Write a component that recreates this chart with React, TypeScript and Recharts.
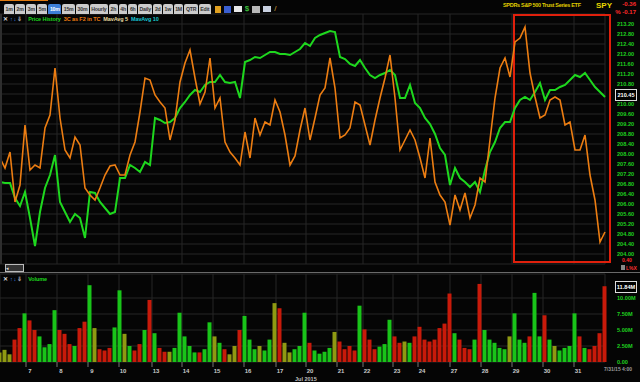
import React from 'react';
import { LineChart, Line, BarChart, Bar, XAxis, YAxis, CartesianGrid, Cell, ReferenceArea } from 'recharts';

// trading days shown on the time axis and where each day begins (in bar units)
const dayLabels = ['7', '8', '9', '10', '13', '14', '15', '16', '17', '20', '21', '22', '23', '24', '27', '28', '29', '30', '31'];
const dayTicks = [5.2, 11.4, 17.6, 23.8, 30.4, 36.4, 42.6, 48.8, 55.2, 61.2, 67.4, 72.6, 78.6, 83.6, 90, 96.2, 102.4, 108.6, 114.8];

const priceTicks = [
  204.0, 204.4, 204.8, 205.2, 205.6, 206.0, 206.4, 206.8, 207.2, 207.6, 208.0, 208.4,
  208.8, 209.2, 209.6, 210.0, 210.4, 210.8, 211.2, 211.6, 212.0, 212.4, 212.8, 213.2,
];
const volumeTicks = [0, 2.5, 5, 7.5, 10];

// SPY price history
const priceHistory = [
  206.88, 206.84, 206.84, 206.24, 205.92, 206.48, 205.44, 204.32, 205.68, 206.64, 207.16, 207.96,
  206.08, 205.68, 205.28, 205.6, 205.44, 204.64, 206.48, 206.44, 206.08, 205.84, 205.6, 205.68,
  207.04, 207.04, 207.56, 207.44, 207.28, 207.68, 207.56, 209.44, 209.36, 209.24, 209.28, 209.44,
  209.84, 210.08, 210.36, 210.56, 210.48, 210.76, 210.88, 210.88, 211.16, 210.88, 210.84, 210.88,
  210.24, 211.68, 211.76, 211.88, 211.84, 211.96, 212.08, 212.08, 212.0, 212.0, 211.96, 212.08,
  212.2, 212.44, 212.32, 212.64, 212.76, 212.84, 212.92, 212.88, 211.88, 211.8, 211.6, 211.52,
  211.76, 211.44, 211.16, 211.04, 211.16, 211.24, 211.36, 211.16, 210.24, 210.24, 210.76, 210.04,
  209.84, 209.44, 209.2, 208.8, 208.24, 207.96, 206.76, 207.44, 207.04, 206.88, 206.68, 206.88,
  206.48, 207.36, 208.08, 208.48, 209.04, 209.28, 209.28, 209.84, 210.16, 210.28, 210.16, 210.48,
  210.84, 210.16, 210.56, 210.56, 210.68, 210.76, 210.96, 211.16, 211.08, 211.24, 210.96, 210.68,
  210.48, 210.28,
];

// 3C as F2 in TC, drawn on the price scale
const threeC = [
  207.84, 207.44, 208.08, 206.08, 206.76, 209.16, 207.36, 207.56, 207.44, 209.04, 209.56, 211.44,
  209.44, 208.16, 207.84, 208.68, 208.36, 206.64, 206.36, 206.16, 206.64, 207.16, 207.52, 207.56,
  207.16, 207.16, 207.96, 208.48, 209.68, 211.04, 210.96, 210.36, 210.08, 209.84, 208.56, 209.36,
  210.88, 211.64, 212.16, 211.04, 210.0, 210.48, 211.84, 209.84, 210.24, 208.48, 208.08, 207.84,
  207.56, 208.88, 207.84, 209.44, 208.76, 209.28, 209.16, 210.16, 209.68, 208.76, 207.56, 207.92,
  208.96, 209.84, 208.56, 209.44, 210.36, 210.64, 211.84, 210.64, 208.64, 208.76, 209.04, 210.08,
  209.96, 209.16, 208.36, 209.36, 210.24, 211.04, 211.96, 210.24, 208.16, 208.56, 208.96, 208.56,
  207.84, 207.04, 208.64, 206.88, 206.36, 206.08, 205.16, 206.36, 205.76, 206.44, 205.44, 205.96,
  207.04, 206.88, 208.56, 210.24, 211.44, 211.84, 211.08, 212.48, 212.64, 213.08, 211.24, 210.28,
  209.44, 209.56, 210.16, 210.28, 210.16, 209.16, 209.28, 208.16, 208.16, 208.76, 207.16, 206.16,
  204.48, 204.88,
];

// volume in millions
const volume = [
  1.5, 1.9, 1.2, 3.5, 5.3, 7.6, 6.5, 5.0, 4.0, 2.3, 2.8, 8.1,
  5.0, 4.4, 2.8, 2.5, 5.3, 6.3, 12.0, 5.3, 2.0, 1.8, 2.2, 5.4,
  11.2, 4.4, 2.5, 1.8, 2.8, 5.0, 9.7, 4.5, 2.2, 1.6, 1.6, 2.2,
  7.7, 4.0, 2.5, 1.5, 1.5, 2.0, 6.2, 4.0, 3.0, 2.0, 1.2, 2.5,
  5.0, 7.2, 3.5, 2.0, 2.5, 1.8, 3.5, 9.2, 8.4, 3.0, 1.5, 2.0,
  2.5, 7.7, 3.0, 1.8, 1.3, 1.6, 2.2, 4.7, 3.2, 2.0, 2.5, 1.8,
  8.8, 5.1, 3.5, 2.0, 2.4, 2.8, 6.6, 4.0, 3.0, 3.2, 3.0, 4.0,
  5.5, 3.5, 3.2, 3.5, 5.3, 6.0, 10.7, 4.5, 3.5, 2.2, 2.0, 3.5,
  12.2, 5.0, 3.5, 3.0, 2.2, 2.0, 4.0, 7.6, 3.5, 3.0, 4.0, 10.8,
  4.0, 7.3, 3.5, 2.5, 1.8, 2.2, 2.5, 7.6, 4.0, 2.2, 2.0, 2.5,
  4.5, 11.84,
];

const timeframes = ['1m', '2m', '3m', '5m', '10m', '15m', '30m', 'Hourly', '2h', '4h', '6h', 'Daily', '2d', '1w', '1M', 'QTR', 'Edit'];

const priceData = priceHistory.map((p, i) => ({ i, price: p, tc: threeC[i] }));
const volumeData = volume.map((v, i) => ({ i, v }));

const barColor = (i: number) => {
  const d = i === 0 ? 0 : priceHistory[i] - priceHistory[i - 1];
  if (d > 0.05) return '#19c419';
  if (d < -0.05) return '#c81a0a';
  return '#8f9a12';
};

const font = '"Liberation Sans", Arial, sans-serif';

const PriceTick = (props: any) => {
  const { x, y, payload } = props;
  return (
    <text x={x + 12} y={y + 2} fill="#1fcf1f" fontSize={5.6} fontWeight="bold" fontFamily={font}>
      {payload.value.toFixed(2)}
    </text>
  );
};

const VolumeTick = (props: any) => {
  const { x, y, payload } = props;
  const label = payload.value === 0 ? '0.00' : payload.value.toFixed(2) + 'M';
  return (
    <text x={x + 12} y={y + 2} fill="#1fcf1f" fontSize={5.6} fontWeight="bold" fontFamily={font}>
      {label}
    </text>
  );
};

const DayTick = (props: any) => {
  const { x, y, payload } = props;
  const label = dayLabels[dayTicks.indexOf(payload.value)];
  return (
    <text x={x + 4} y={y + 4} fill="#c8c8c8" fontSize={6} fontWeight="bold" textAnchor="middle" fontFamily={font}>
      {label}
    </text>
  );
};

const Legend = ({ top, items }: { top: number; items: { text: string; color: string }[] }) => (
  <div style={{ position: 'absolute', left: 3, top, display: 'flex', gap: 3, fontSize: 5.5, fontWeight: 'bold', fontFamily: font, lineHeight: '8px', letterSpacing: -0.1 }}>
    <span style={{ color: '#ddd' }}>✕</span>
    <span style={{ color: '#4a9cff', marginLeft: -1 }}>↑</span>
    <span style={{ color: '#4a9cff', marginLeft: -2 }}>↓</span>
    <span style={{ color: '#aaa', marginLeft: -2, marginRight: 3 }}>⇓</span>
    {items.map((it) => (
      <span key={it.text} style={{ color: it.color }}>{it.text}</span>
    ))}
  </div>
);

export default function App() {
  return (
    <div style={{ position: 'absolute', left: 0, top: 0, width: 640, height: 382, background: '#050505', overflow: 'hidden', fontFamily: font }}>
      {/* price panel */}
      <div style={{ position: 'absolute', left: 0, top: 0 }}>
        <LineChart width={640} height={270} data={priceData} margin={{ top: 14, right: 0, bottom: 6, left: 0 }}>
          <CartesianGrid stroke="#262626" />
          <XAxis dataKey="i" type="number" domain={[0, 121]} ticks={dayTicks} hide />
          <YAxis
            orientation="right"
            width={35}
            domain={[203.6, 213.6]}
            ticks={priceTicks}
            tick={<PriceTick />}
            tickLine={false}
            axisLine={false}
            tickSize={0}
            tickMargin={0}
            interval={0}
          />
          <Line dataKey="price" stroke="#1ed81e" strokeWidth={2} dot={false} isAnimationActive={false} />
          <Line dataKey="tc" stroke="#ec7d12" strokeWidth={1.6} dot={false} isAnimationActive={false} />
          <ReferenceArea x1={102.8} x2={122} y1={203.68} y2={213.56} ifOverflow="visible" fill="none" stroke="#e0200c" strokeWidth={2} />
        </LineChart>
      </div>

      {/* volume panel */}
      <div style={{ position: 'absolute', left: 0, top: 260 }}>
        <BarChart width={640} height={122} data={volumeData} margin={{ top: 14, right: 0, bottom: 0, left: 0 }}>
          <CartesianGrid stroke="#262626" />
          <XAxis
            dataKey="i"
            type="number"
            domain={[0, 121]}
            ticks={dayTicks}
            tick={<DayTick />}
            height={20}
            axisLine={false}
            tickLine={{ stroke: '#777' }}
            tickSize={5}
            interval={0}
          />
          <YAxis
            orientation="right"
            width={35}
            domain={[0, 13.75]}
            ticks={volumeTicks}
            tick={<VolumeTick />}
            tickLine={false}
            axisLine={false}
            tickSize={0}
            tickMargin={0}
            interval={0}
          />
          <Bar dataKey="v" barSize={4} isAnimationActive={false}>
            {volumeData.map((d) => (
              <Cell key={d.i} fill={barColor(d.i)} />
            ))}
          </Bar>
        </BarChart>
      </div>

      {/* toolbar */}
      <div style={{ position: 'absolute', left: 0, top: 0, width: 48, height: 1, background: '#e07a10' }} />
      <div style={{ position: 'absolute', left: 4, top: 4, display: 'flex', gap: 1 }}>
        {timeframes.map((t) => (
          <span
            key={t}
            style={{
              height: 10,
              lineHeight: '10px',
              padding: '0 1.5px',
              fontSize: 5.2,
              fontWeight: 'bold',
              letterSpacing: -0.2,
              background: t === '10m' ? '#3d7fd6' : '#cbcbcb',
              color: t === '10m' ? '#fff' : '#333',
              borderRadius: '2px 2px 0 0',
            }}
          >
            {t}
          </span>
        ))}
        <span style={{ display: 'flex', gap: 3, marginLeft: 3, alignItems: 'center' }}>
          <span style={{ width: 6, height: 7, background: '#e0a020' }} />
          <span style={{ width: 7, height: 7, background: '#3b5fd0' }} />
          <span style={{ width: 8, height: 6, background: '#e8e8e8' }} />
          <span style={{ color: '#3cc03c', fontSize: 8, fontWeight: 'bold', lineHeight: '8px' }}>$</span>
          <span style={{ width: 8, height: 7, background: '#b8b8b8' }} />
          <span style={{ width: 8, height: 6, background: '#c8d0e0' }} />
          <span style={{ color: '#d0a040', fontSize: 8, lineHeight: '8px' }}>/</span>
        </span>
      </div>

      <Legend
        top={15}
        items={[
          { text: 'Price History', color: '#1ed81e' },
          { text: '3C as F2 in TC', color: '#ec7d12' },
          { text: 'MavAvg 5', color: '#e6dca0' },
          { text: 'MavAvg 10', color: '#19c8d2' },
        ]}
      />
      <Legend top={275} items={[{ text: 'Volume', color: '#1ed81e' }]} />

      {/* title block */}
      <div style={{ position: 'absolute', left: 503, top: 2, color: '#e0d000', fontSize: 5.5, fontWeight: 'bold', letterSpacing: -0.3 }}>
        SPDRs S&amp;P 500 Trust Series ETF
      </div>
      <div style={{ position: 'absolute', left: 596, top: 1, color: '#e8d800', fontSize: 8, fontWeight: 'bold' }}>SPY</div>
      <div style={{ position: 'absolute', right: 4, top: 0, color: '#ff2a2a', fontSize: 6, fontWeight: 'bold', textAlign: 'right', lineHeight: '8px' }}>
        -0.36
        <br />% -0.17
      </div>

      {/* last value boxes */}
      <div style={{ position: 'absolute', left: 615, top: 89, width: 20, height: 10, border: '1px solid #ddd', color: '#fff', fontSize: 5.6, fontWeight: 'bold', lineHeight: '10px', textAlign: 'center', background: '#000' }}>
        210.45
      </div>
      <div style={{ position: 'absolute', left: 615, top: 281, width: 20, height: 10, border: '1px solid #ddd', color: '#fff', fontSize: 5.6, fontWeight: 'bold', lineHeight: '10px', textAlign: 'center', background: '#000' }}>
        11.84M
      </div>
      <div style={{ position: 'absolute', left: 622, top: 257, color: '#ff2a2a', fontSize: 5, fontWeight: 'bold' }}>0.40</div>
      <div style={{ position: 'absolute', left: 621, top: 265, color: '#ff3030', fontSize: 5, fontWeight: 'bold', display: 'flex', gap: 1 }}>
        <span style={{ width: 4, height: 5, background: '#888' }} />
        L%X
      </div>

      {/* panel separators and scroller */}
      <div style={{ position: 'absolute', left: 0, top: 14, width: 2, height: 250, background: '#2e2e2e' }} />
      <div style={{ position: 'absolute', left: 0, top: 272, width: 640, height: 1, background: '#6a6a6a' }} />
      <div style={{ position: 'absolute', left: 5, top: 264, width: 17, height: 6, border: '1px solid #bbb', background: '#333', color: '#ddd', fontSize: 5, lineHeight: '6px' }}>◂</div>

      <div style={{ position: 'absolute', left: 295, top: 376, color: '#bdbdbd', fontSize: 5.5, fontWeight: 'bold' }}>Jul 2015</div>
      <div style={{ position: 'absolute', left: 604, top: 366, color: '#9a9a9a', fontSize: 5, fontWeight: 'bold' }}>7/31/15 4:00</div>
    </div>
  );
}
